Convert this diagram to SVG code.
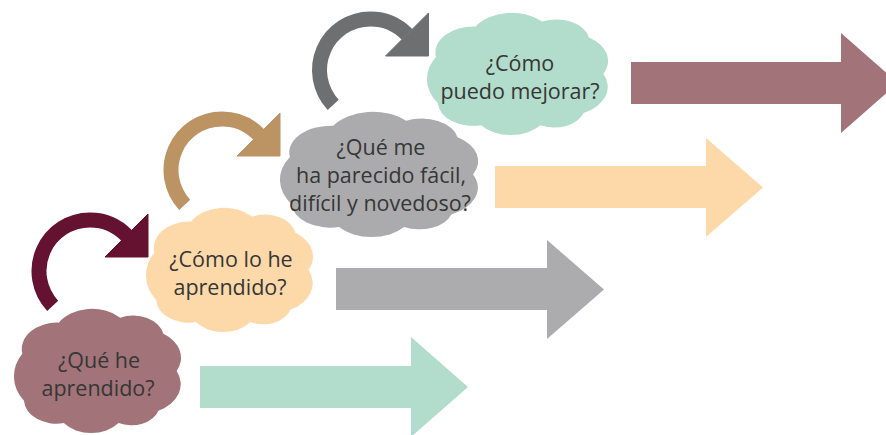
<svg xmlns="http://www.w3.org/2000/svg" xmlns:xlink="http://www.w3.org/1999/xlink" width="886" height="435" viewBox="0 0 886 435">
  <style>
    .lbl { font-family: "Open Sans", "Noto Sans", "DejaVu Sans", sans-serif; font-size: 21.5px; fill: #363636; text-anchor: middle; }
    .arc { fill: none; stroke-width: 15; stroke-linecap: butt; }
  </style>
  <defs>
    <path id="cloud" d="M5,36 A21.3,21.3 0 0 1 27,11 A23.7,23.7 0 0 1 64,7 A18.5,18.5 0 0 1 90,20 A23,23 0 0 1 98,50 A23.9,23.9 0 0 1 87,82 A17.1,17.1 0 0 1 63,92 A21,21 0 0 1 30,92 A19.6,19.6 0 0 1 6,74 A35.5,35.5 0 0 1 5,36 Z"/>
    <g id="circarrow">
      <path class="arc" d="M-37.3,34.78 A51,51 0 0 1 0,-51 A51,51 0 0 1 36.69,-35.43"/>
      <polygon points="15,-14 58,-57 58,-14"/>
    </g>
  </defs>

  <g id="connectors">
    <polygon id="arrow-green" fill="#B2DCCB" points="200,366 411,366 411,337 468,387 411,437 411,408 200,408"/>
    <polygon id="arrow-gray" fill="#ACACAE" points="336,268 547,268 547,240 604,289.5 547,339 547,310 336,310"/>
    <polygon id="arrow-peach" fill="#FDD9A9" points="495,166 706,166 706,138 763,187.5 706,237 706,208 495,208"/>
    <polygon id="arrow-mauve" fill="#A27379" points="631,62 841,62 841,33 898,83 841,133 841,104 631,104"/>
    <use xlink:href="#circarrow" href="#circarrow" transform="translate(90,271)" fill="#641230" stroke="#641230"/>
    <use xlink:href="#circarrow" href="#circarrow" transform="translate(222,170)" fill="#BC9464" stroke="#BC9464"/>
    <use xlink:href="#circarrow" href="#circarrow" transform="translate(370.5,70)" fill="#6E6F71" stroke="#6E6F71"/>
  </g>

  <g id="node-que-he-aprendido">
    <use xlink:href="#cloud" href="#cloud" transform="translate(14,309) scale(1.66,1.24)" fill="#A27379"/>
    <text class="lbl" x="99" y="368">¿Qué he</text>
    <text class="lbl" x="98" y="396">aprendido?</text>
  </g>

  <g id="node-como-lo-he-aprendido">
    <use xlink:href="#cloud" href="#cloud" transform="translate(146,208) scale(1.66,1.24)" fill="#FDD9A9"/>
    <text class="lbl" x="231" y="267">¿Cómo lo he</text>
    <text class="lbl" x="230" y="295">aprendido?</text>
  </g>

  <g id="node-que-me-ha-parecido">
    <use xlink:href="#cloud" href="#cloud" transform="translate(280,112) scale(1.97,1.25)" fill="#ABABAD"/>
    <text class="lbl" x="381" y="155">¿Qué me</text>
    <text class="lbl" x="381" y="183">ha parecido fácil,</text>
    <text class="lbl" x="380" y="211">difícil y novedoso?</text>
  </g>

  <g id="node-como-puedo-mejorar">
    <use xlink:href="#cloud" href="#cloud" transform="translate(427,13) scale(1.80,1.22)" fill="#B2DCCB"/>
    <text class="lbl" x="520" y="71">¿Cómo</text>
    <text class="lbl" x="520" y="99">puedo mejorar?</text>
  </g>
</svg>
